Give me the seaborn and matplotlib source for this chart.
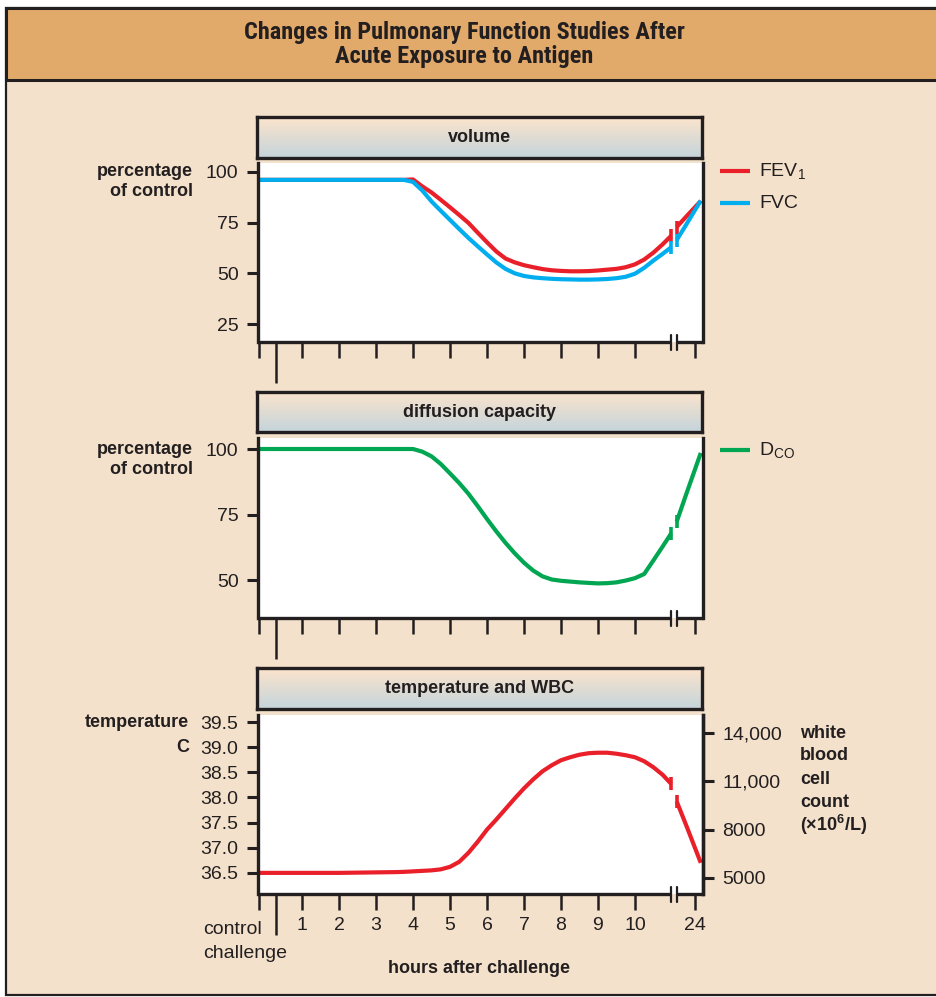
import numpy as np
import pandas as pd
import matplotlib
matplotlib.use("Agg")
import matplotlib.pyplot as plt
import seaborn as sns
from matplotlib import font_manager
from matplotlib.lines import Line2D
from matplotlib.patches import Rectangle
from matplotlib.colors import LinearSegmentedColormap

# ---------------------------------------------------------------- data
# Horizontal positions: hours 1..10 sit at their own value; "control" and
# "challenge" come before hour 1, and the 24 h reading sits past the break.
tick_pos = [-0.17, 1, 2, 3, 4, 5, 6, 7, 8, 9, 10, 11.62]
tick_labels = ["", "1", "2", "3", "4", "5", "6", "7", "8", "9", "10", "24"]
challenge_pos = 0.30
break_lo, break_hi = 10.98, 11.13

t_before = [-0.19, 0.3, 1, 2, 3, 3.5, 3.75, 4.0, 4.25, 4.5, 4.75, 5.0, 5.25,
            5.5, 5.75, 6.0, 6.25, 6.5, 6.75, 7.0, 7.25, 7.5, 7.75, 8.0, 8.25,
            8.5, 8.75, 9.0, 9.25, 9.5, 9.75, 10.0, 10.25, 10.5, 10.75, 10.98]
t_after = [11.13, 11.4, 11.78]

# volume, % of control
fev1_before = [96, 96, 96, 96, 96, 96, 96, 96.2, 92.8, 89.8, 86.2, 82.5,
               78.7, 74.8, 70.0, 65.3, 60.8, 57.3, 55.4, 54.0, 53.0, 52.1,
               51.5, 51.2, 51.0, 51.0, 51.1, 51.4, 51.8, 52.2, 53.0, 54.4,
               56.8, 60.2, 64.3, 68.5]
fev1_after = [72.8, 78.2, 85.6]
fvc_before = [96, 96, 96, 96, 96, 96, 96, 95.0, 90.8, 85.4, 80.8, 76.3,
              71.8, 67.4, 63.3, 59.3, 55.4, 52.2, 50.0, 48.7, 48.0, 47.6,
              47.3, 47.1, 47.0, 46.9, 46.9, 47.0, 47.2, 47.6, 48.3, 49.8,
              52.7, 56.3, 59.6, 62.8]
fvc_after = [66.4, 74.4, 85.8]

# diffusion capacity, % of control
dco_before = [100, 100, 100, 100, 100, 100, 100, 100, 99.0, 97.2, 94.3,
              90.7, 87.0, 82.9, 78.2, 73.3, 68.6, 64.2, 60.2, 56.6, 53.6,
              51.4, 50.2, 49.7, 49.4, 49.1, 48.9, 48.7, 48.8, 49.1, 49.8,
              50.7, 52.3, 57.5, 62.8, 67.8]
dco_after = [72.3, 83.3, 98.5]

# temperature, degrees C
temp_before = [36.5, 36.5, 36.5, 36.5, 36.51, 36.515, 36.52, 36.53, 36.54,
               36.55, 36.57, 36.62, 36.72, 36.9, 37.12, 37.36, 37.56, 37.77,
               37.98, 38.18, 38.36, 38.52, 38.64, 38.74, 38.8, 38.85, 38.88,
               38.89, 38.89, 38.87, 38.84, 38.8, 38.72, 38.6, 38.45, 38.27]
temp_after = [37.92, 37.42, 36.7]

vol_ticks = [25, 50, 75, 100]
dco_ticks = [50, 75, 100]
temp_ticks = [36.5, 37.0, 37.5, 38.0, 38.5, 39.0, 39.5]
wbc_ticks = [5000, 8000, 11000, 14000]
wbc_labels = ["5000", "8000", "11,000", "14,000"]

# ---------------------------------------------------------------- style
def pick(names):
    avail = {f.name for f in font_manager.fontManager.ttflist}
    for n in names:
        if n in avail:
            return n
    return "DejaVu Sans"

SANS = pick(["Liberation Sans", "Arimo", "DejaVu Sans"])
COND = pick(["Liberation Sans Narrow", "Roboto Condensed", SANS])

sns.set_theme(style="white")
plt.rcParams["font.family"] = [SANS, "DejaVu Sans"]
plt.rcParams["mathtext.fontset"] = "custom"
plt.rcParams["mathtext.rm"] = SANS
plt.rcParams["mathtext.it"] = SANS + ":italic"
plt.rcParams["mathtext.bf"] = SANS + ":bold"

DARK = "#231F20"
CREAM = "#F3E1CB"
ORANGE = "#E2AA6A"
RED = "#E9202A"
BLUE = "#00AEEF"
GREEN = "#00A651"

W, H = 936, 997
fig = plt.figure(figsize=(W / 100, H / 100), dpi=100, facecolor="white")


def fx(px):
    return px / W


def fy(py):
    return 1 - py / H


# framed background and title band
fig.add_artist(Rectangle((fx(6), fy(995)), fx(940) - fx(6), (995 - 8) / H,
                         transform=fig.transFigure, facecolor=CREAM,
                         edgecolor=DARK, lw=1.6, zorder=-5))
fig.add_artist(Rectangle((fx(6), fy(80)), fx(940) - fx(6), (80 - 8) / H,
                         transform=fig.transFigure, facecolor=ORANGE,
                         edgecolor=DARK, lw=2.2, zorder=-4))
fig.text(0.496, fy(32), "Changes in Pulmonary Function Studies After",
         ha="center", va="center", fontsize=17.5, fontweight="bold",
         family=[COND, "DejaVu Sans"], color=DARK)
fig.text(0.496, fy(57), "Acute Exposure to Antigen",
         ha="center", va="center", fontsize=17.5, fontweight="bold",
         family=[COND, "DejaVu Sans"], color=DARK)

AX_L, AX_R = 258, 703
XMIN, XMAX = -0.19, 11.84
grad_cmap = LinearSegmentedColormap.from_list("hdr", ["#C4D4DB", "#FCE4CC"])


def header(top, bottom, text):
    hx = fig.add_axes([fx(257), fy(bottom), fx(702) - fx(257), (bottom - top) / H])
    hx.imshow(np.linspace(0, 1, 64).reshape(-1, 1)[::-1], aspect="auto",
              cmap=grad_cmap, extent=[0, 1, 0, 1])
    hx.set_xticks([])
    hx.set_yticks([])
    for s in hx.spines.values():
        s.set_visible(True)
        s.set_color(DARK)
        s.set_linewidth(2.4)
    hx.text(0.5, 0.5, text, ha="center", va="center", fontsize=13,
            fontweight="bold", color=DARK, transform=hx.transAxes)


def panel(top, bottom, ylim, yticks, ylabels):
    ax = fig.add_axes([fx(AX_L), fy(bottom), fx(AX_R) - fx(AX_L), (bottom - top) / H])
    ax.set_facecolor("white")
    ax.set_xlim(XMIN, XMAX)
    ax.set_ylim(*ylim)
    ax.autoscale(False)
    ax.grid(False)
    ax.spines["top"].set_visible(False)
    ax.spines["bottom"].set_visible(False)
    for s in ("left", "right"):
        ax.spines[s].set_visible(True)
        ax.spines[s].set_color(DARK)
        ax.spines[s].set_linewidth(2.4)
    ax.set_yticks(yticks, ylabels)
    ax.tick_params(axis="y", left=True, right=False, length=8, width=2.2,
                   color=DARK, pad=6, labelsize=14, labelcolor=DARK)
    ax.set_xticks(tick_pos, tick_labels)
    ax.set_xticks([challenge_pos], minor=True)
    ax.tick_params(axis="x", which="major", bottom=True, length=11.5, width=1.8,
                   color=DARK, pad=5, labelsize=14, labelcolor=DARK)
    ax.tick_params(axis="x", which="minor", bottom=True, length=29.5, width=1.8,
                   color=DARK)
    # bottom axis line with a break before the 24 h tick
    tr = ax.get_xaxis_transform()
    ax.plot([XMIN, break_lo], [0, 0], color=DARK, lw=2.4, transform=tr,
            clip_on=False, solid_capstyle="butt", zorder=5)
    ax.plot([break_hi, XMAX], [0, 0], color=DARK, lw=2.4, transform=tr,
            clip_on=False, solid_capstyle="butt", zorder=5)
    d = 7.5 / (bottom - top)
    for xb in (break_lo, break_hi):
        ax.plot([xb, xb], [-d, d], color=DARK, lw=1.6, transform=tr,
                clip_on=False, zorder=5)
    return ax


def series(ax, before, after, color, bottom, top, ylim):
    df = pd.DataFrame({
        "t": list(t_before) + list(t_after),
        "v": list(before) + list(after),
        "seg": [0] * len(t_before) + [1] * len(t_after),
    })
    sns.lineplot(data=df, x="t", y="v", units="seg", estimator=None, ax=ax,
                 color=color, lw=3.0, solid_capstyle="butt",
                 solid_joinstyle="round", legend=False, clip_on=False)
    # short bars marking the interrupted curve
    half = 6.5 * (ylim[1] - ylim[0]) / (bottom - top)
    for xb, yb in ((t_before[-1], before[-1]), (t_after[0], after[0])):
        ax.plot([xb, xb], [yb - half, yb + half], color=color, lw=2.6,
                solid_capstyle="butt")
    ax.set_xlabel("")
    ax.set_ylabel("")


# ---------------------------------------------------------------- volume
header(117, 158, "volume")
ylim1 = (16.2, 104.3)
ax1 = panel(163, 342, ylim1, vol_ticks, [str(v) for v in vol_ticks])
series(ax1, fev1_before, fev1_after, RED, 342, 163, ylim1)
series(ax1, fvc_before, fvc_after, BLUE, 342, 163, ylim1)
ax1.set_xlim(XMIN, XMAX)
ax1.set_ylim(*ylim1)
ax1.tick_params(axis="x", labelbottom=False)

# ------------------------------------------------------ diffusion capacity
header(392, 432, "diffusion capacity")
ylim2 = (35.5, 104.2)
ax2 = panel(438, 618, ylim2, dco_ticks, [str(v) for v in dco_ticks])
series(ax2, dco_before, dco_after, GREEN, 618, 438, ylim2)
ax2.set_xlim(XMIN, XMAX)
ax2.set_ylim(*ylim2)
ax2.tick_params(axis="x", labelbottom=False)

# ------------------------------------------------- temperature and WBC
header(668, 709, "temperature and WBC")
ylim3 = (36.08, 39.64)
ax3 = panel(715, 894, ylim3, temp_ticks, [f"{v:.1f}" for v in temp_ticks])
series(ax3, temp_before, temp_after, RED, 894, 715, ylim3)
ax3.set_xlim(XMIN, XMAX)
ax3.set_ylim(*ylim3)

ax3r = ax3.twinx()
ax3r.set_ylim(4000, 15125)
ax3r.set_yticks(wbc_ticks, wbc_labels)
ax3r.grid(False)
for s in ("top", "bottom", "left"):
    ax3r.spines[s].set_visible(False)
ax3r.spines["right"].set_color(DARK)
ax3r.spines["right"].set_linewidth(2.4)
ax3r.tick_params(axis="y", right=True, left=False, length=8, width=2.2,
                 color=DARK, pad=6, labelsize=14, labelcolor=DARK)

# ---------------------------------------------------------------- labels
lab = dict(fontsize=13, fontweight="bold", color=DARK)
fig.text(fx(193), fy(171), "percentage", ha="right", va="center", **lab)
fig.text(fx(193), fy(192), "of control", ha="right", va="center", **lab)
fig.text(fx(193), fy(449), "percentage", ha="right", va="center", **lab)
fig.text(fx(193), fy(469), "of control", ha="right", va="center", **lab)
fig.text(fx(189), fy(722), "temperature", ha="right", va="center", **lab)
fig.text(fx(189), fy(747), "C", ha="right", va="center", **lab)

wbc_lines = ["white", "blood", "cell", "count", "(\u00d710$^{\\mathbf{6}}$/L)"]
for i, line in enumerate(wbc_lines):
    fig.text(fx(800), fy(733 + 23 * i), line, ha="left", va="center", **lab)

tick_txt = dict(fontsize=14, color=DARK)
fig.text(fx(203), fy(929), "control", ha="left", va="center", **tick_txt)
fig.text(fx(203), fy(953), "challenge", ha="left", va="center", **tick_txt)
fig.text(fx(479), fy(968), "hours after challenge", ha="center", va="center",
         **lab)

# legends beside the panels
for (y, color, text) in ((171, RED, r"FEV$_1$"), (203, BLUE, "FVC"),
                         (450, GREEN, r"D$_{\mathrm{CO}}$")):
    fig.add_artist(Line2D([fx(720), fx(750)], [fy(y), fy(y)], color=color,
                          lw=3.0, solid_capstyle="butt",
                          transform=fig.transFigure))
    fig.text(fx(759), fy(y), text, ha="left", va="center", fontsize=14,
             color=DARK)

fig.savefig("out.png", dpi=100, facecolor="white")
